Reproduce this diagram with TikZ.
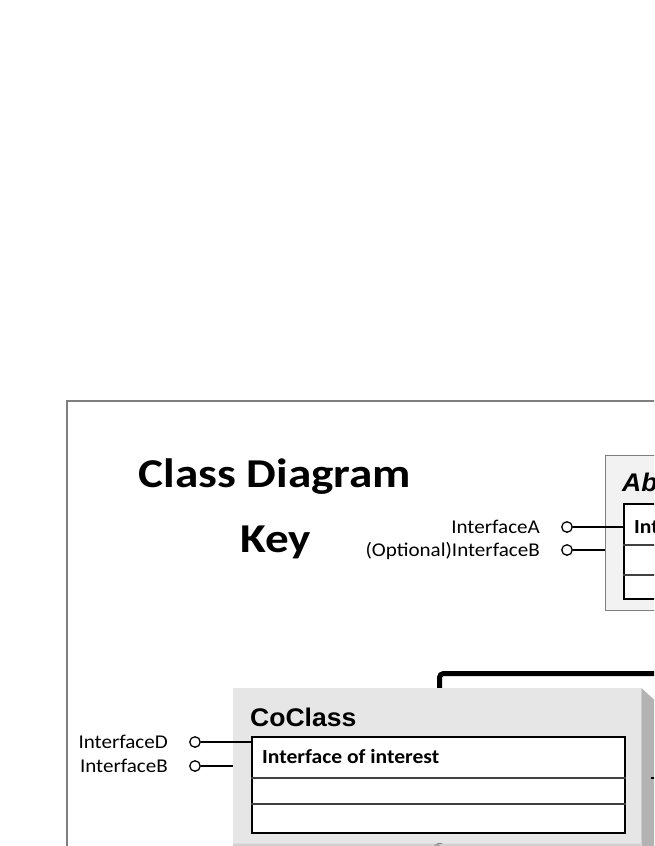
\documentclass[tikz,border=0pt]{standalone}
\usepackage{fontspec}
\setmainfont{Carlito}
\newfontfamily\titlefont[FakeStretch=1.15]{Carlito}
\newfontfamily\lblfont[FakeStretch=1.08]{Carlito}
\newfontfamily\arialf[FakeStretch=1.04]{Liberation Sans}
\definecolor{framegray}{HTML}{7F7F7F}
\definecolor{absfill}{HTML}{F2F2F2}
\definecolor{cofill}{HTML}{E6E6E6}
\definecolor{coside}{HTML}{B3B3B3}
\definecolor{cobottom}{HTML}{D0D0D0}
\definecolor{divgray}{HTML}{404040}
\begin{document}
\begin{tikzpicture}[x=1pt,y=-1pt,
  box/.style={rectangle, inner sep=0pt, anchor=north west},
  lolli/.style={circle, draw=black, fill=white, line width=1.3pt, minimum size=10.5pt, inner sep=0pt},
  lbl/.style={font=\lblfont\fontsize{19.5}{22}\selectfont, inner sep=0pt, anchor=base east},
  conn/.style={line width=1.5pt, draw=black},
  divider/.style={line width=1.1pt, draw=divgray},
  title/.style={font=\titlefont\fontsize{41}{45}\selectfont\bfseries, inner sep=0pt, anchor=base}
]
\useasboundingbox (0,0) rectangle (654,846);
\clip (0,0) rectangle (654,846);
\fill[white] (0,0) rectangle (654,846);

% outer frame
\node[box, draw=framegray, line width=1.5pt, minimum width=700pt, minimum height=600pt] (frame) at (66,400) {};

% title
\node[title] (t1) at (275,487) {Class Diagram};
\node[title] (t2) at (276,552) {Key};

% abstract class box
\node[box, draw=framegray, fill=absfill, line width=1pt, minimum width=200pt, minimum height=155pt] (absouter) at (605,455) {};
\node[inner sep=0pt, anchor=base west, font=\arialf\fontsize{25.5}{28}\selectfont\bfseries\itshape] (abname) at (622,491) {Ab};
\node[box, draw=black, fill=white, line width=2pt, minimum width=150pt, minimum height=95pt] (absinner) at (623,503) {};
\draw[divider] (absinner.west |- 0,545) coordinate (ad1) -- (700,545);
\draw[divider] (absinner.west |- 0,575) coordinate (ad2) -- (700,575);
\node[inner sep=0pt, anchor=base west, font=\lblfont\fontsize{20}{22}\selectfont\bfseries] (absint) at (634,533) {Int};

% abstract lollipops
\node[lolli] (ia) at (567,527) {};
\node[lolli] (iob) at (567,550) {};
\node[lbl] (ialbl) at (540,533) {InterfaceA};
\node[lbl] (ioblbl) at (540,556) {(Optional)InterfaceB};
\draw[conn] (ia.east) -- (ia -| absinner.west);
\draw[conn] (iob.east) -- (iob -| absouter.west);

% thick black rectangle behind coclass
\node[box, draw=black, line width=5pt, rounded corners=4pt, minimum width=400pt, minimum height=400pt] (thick) at (437,671) {};

% coclass 3D box
\node[box, fill=cofill, minimum width=408pt, minimum height=155pt] (coface) at (233,688) {};
\fill[coside] (coface.north east) -- ++(13,12) -- ++(0,200) -- (coface.south east) -- cycle;
\fill[cobottom] (coface.south west) -- (coface.south east) -- ++(0,10) -- ++(-408,0) -- cycle;
\node[circle, fill=gray!70, minimum size=6pt, inner sep=0pt] (codot) at (437,846.5) {};
\node[inner sep=0pt, anchor=base west, font=\arialf\fontsize{25.5}{28}\selectfont\bfseries] (coname) at (250,726) {CoClass};
\node[box, draw=black, fill=white, line width=2pt, minimum width=373pt, minimum height=96pt] (coinner) at (251,736) {};
\draw[divider] (coinner.west |- 0,778) -- (coinner.east |- 0,778);
\draw[divider] (coinner.west |- 0,804) -- (coinner.east |- 0,804);
\node[inner sep=0pt, anchor=base west, font=\lblfont\fontsize{20}{22}\selectfont\bfseries] (coint) at (262,763) {Interface of interest};

% coclass lollipops
\node[lolli] (idd) at (195,742) {};
\node[lolli] (ibb) at (195,766) {};
\node[lbl] (idlbl) at (168,748) {InterfaceD};
\node[lbl] (iblbl) at (168,772) {InterfaceB};
\draw[conn] (idd.east) -- (idd -| coinner.west);
\draw[conn] (ibb.east) -- (ibb -| coface.west);

% small connector stub at right
\coordinate (stubend) at (654,778);
\draw[line width=1.5pt] (651,778) -- (stubend);
\end{tikzpicture}
\end{document}
